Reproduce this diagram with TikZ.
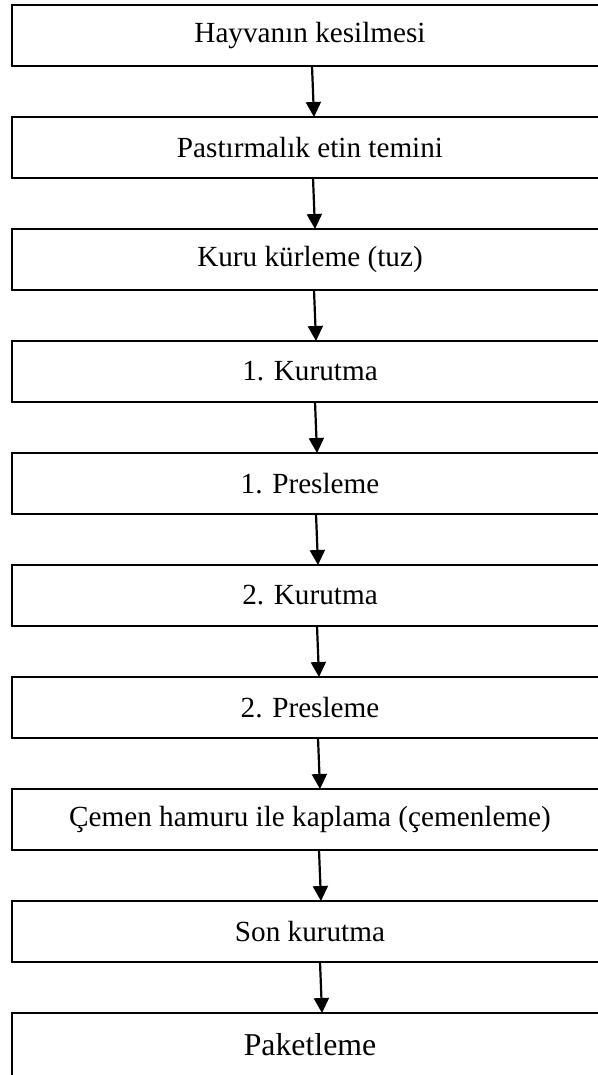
\documentclass[tikz,border=0pt]{standalone}
\usepackage{fontspec}
\setmainfont{Liberation Serif}
\usetikzlibrary{arrows.meta, positioning}

\begin{document}
\begin{tikzpicture}[
    node distance=25.5pt,
    stepbox/.style={draw, line width=1pt, minimum width=298pt, minimum height=30.5pt, inner sep=0pt, outer sep=0pt, font=\fontsize{14.6}{17}\selectfont},
    arrow/.style={-{Triangle[length=7.5pt, width=7.5pt]}, line width=1.1pt}
]
    \useasboundingbox (0,0) rectangle (299pt,-537.5pt);
    \clip (0,0) rectangle (299pt,-537.5pt);

    % Steps
    \node (kesim) [stepbox, anchor=north west] at (6pt,-2.5pt) {Hayvanın kesilmesi};
    \node (temin) [stepbox, below=of kesim] {Pastırmalık etin temini};
    \node (kurleme) [stepbox, below=of temin] {Kuru kürleme (tuz)};
    \node (kurutmaA) [stepbox, below=of kurleme] {1. Kurutma};
    \node (preslemeA) [stepbox, below=of kurutmaA] {1. Presleme};
    \node (kurutmaB) [stepbox, below=of preslemeA] {2. Kurutma};
    \node (preslemeB) [stepbox, below=of kurutmaB] {2. Presleme};
    \node (cemen) [stepbox, below=of preslemeB] {Çemen hamuru ile kaplama (çemenleme)};
    \node (sonkurutma) [stepbox, below=of cemen] {Son kurutma};
    \node (paket) [stepbox, below=of sonkurutma, minimum height=32pt, font=\fontsize{15.9}{18}\selectfont] {Paketleme};

    % Arrows
    \foreach \a/\b [count=\i, evaluate=\i as \xa using 0.5*\i+0.5, evaluate=\i as \xb using 0.5*\i+1.5] in
        {kesim/temin, temin/kurleme, kurleme/kurutmaA, kurutmaA/preslemeA, preslemeA/kurutmaB,
         kurutmaB/preslemeB, preslemeB/cemen, cemen/sonkurutma, sonkurutma/paket}
        \draw [arrow] ([xshift=\xa pt]\a.south) -- ([xshift=\xb pt]\b.north);
\end{tikzpicture}
\end{document}
